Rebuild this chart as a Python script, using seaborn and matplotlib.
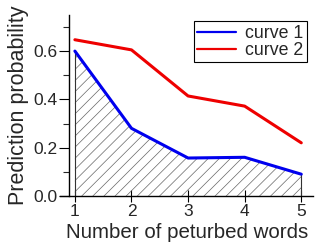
import matplotlib
matplotlib.use("Agg")
import matplotlib.pyplot as plt
import seaborn as sns
import pandas as pd
from matplotlib.ticker import MultipleLocator

words = [1, 2, 3, 4, 5]
curve1 = [0.60, 0.28, 0.157, 0.16, 0.09]
curve2 = [0.647, 0.605, 0.414, 0.372, 0.22]
yticks = [0.0, 0.2, 0.4, 0.6]

sns.set_style("ticks")
plt.rcParams['font.family'] = ['Liberation Sans', 'DejaVu Sans']
plt.rcParams['hatch.linewidth'] = 0.5
plt.rcParams['hatch.color'] = '#666666'

df = pd.DataFrame({"x": words * 2, "y": curve1 + curve2,
                   "series": ["curve 1"] * 5 + ["curve 2"] * 5})

fig = plt.figure(figsize=(3.16, 2.48), dpi=100)
ax = fig.add_axes([0.218, 0.21, 0.773, 0.73])

ax.fill_between(words, curve1, 0, facecolor='none', edgecolor='#666666',
                hatch='///', linewidth=0)
ax.vlines([words[0], words[-1]], 0, [curve1[0], curve1[-1]], color='#333333', lw=0.8)
sns.lineplot(data=df, x="x", y="y", hue="series", palette=["#0000ee", "#ee0000"],
             lw=2.2, ax=ax, legend=True)

ax.set_xlim(0.894, 5.21)
ax.set_ylim(0, 0.75)
ax.set_xticks(words)
ax.set_yticks(yticks)
ax.yaxis.set_minor_locator(MultipleLocator(0.1))
ax.tick_params(axis='both', labelsize=12.5, color='black', width=0.8)
ax.tick_params(axis='y', which='major', direction='out', length=7, pad=1)
ax.tick_params(axis='y', which='minor', direction='out', length=4, width=0.8)
ax.tick_params(axis='x', which='major', direction='inout', length=8, pad=2)
ax.set_xlabel("Number of peturbed words", fontsize=14.8)
ax.xaxis.set_label_coords(0.484, -0.15)
ax.set_ylabel("Prediction probability", fontsize=15.5, labelpad=3)
for s in ['top', 'right']:
    ax.spines[s].set_visible(False)
for s in ['left', 'bottom']:
    ax.spines[s].set_linewidth(1.0)
    ax.spines[s].set_color('black')
ax.spines['bottom'].set_bounds(0.74, 5.21)

leg = ax.legend(loc='upper right', bbox_to_anchor=(0.975, 0.965), fontsize=12.8,
                frameon=True, fancybox=False, edgecolor='black', framealpha=1,
                handlelength=2.2, borderpad=0.2, labelspacing=0.0, handletextpad=0.5,
                borderaxespad=0.0)
leg.get_frame().set_linewidth(0.8)
for h in leg.get_lines():
    h.set_linewidth(1.6)
fig.savefig("out.png", dpi=100)
